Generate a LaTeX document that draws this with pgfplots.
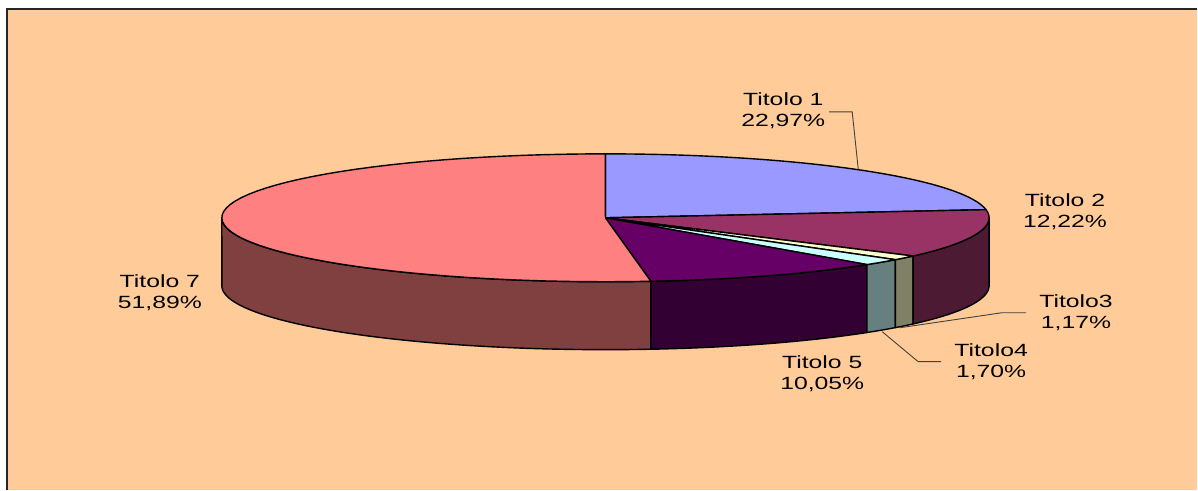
\documentclass[border=0pt]{standalone}
\usepackage{fontspec}
\setmainfont{Liberation Sans}
\usepackage{pgfplots}
\pgfplotsset{compat=1.18}
\definecolor{bgpeach}{HTML}{FFCC99}
\definecolor{cA}{HTML}{9999FF}
\definecolor{cB}{HTML}{993366}
\definecolor{cBs}{HTML}{4D1A33}
\definecolor{cC}{HTML}{FFFFCC}
\definecolor{cCs}{HTML}{808066}
\definecolor{cD}{HTML}{CCFFFF}
\definecolor{cDs}{HTML}{668080}
\definecolor{cE}{HTML}{660066}
\definecolor{cEs}{HTML}{330033}
\definecolor{cG}{HTML}{FF8080}
\definecolor{cGs}{HTML}{804040}
% pie geometry (pixel units, y downwards)
\def\cx{606}\def\cy{218}\def\rx{384}\def\ry{64}\def\dep{68}
% top face of a slice: start angle, end angle, colour
\newcommand{\topwedge}[3]{%
  \addplot[fill=#3, draw=black, line width=1.4bp, line join=round,
    samples at={-1,0,...,60,61}]
   ({\cx+\rx*(x>=0)*(x<=60)*cos((#1)+((#2)-(#1))*max(0,min(x,60))/60)},
    {\cy-\ry*(x>=0)*(x<=60)*sin((#1)+((#2)-(#1))*max(0,min(x,60))/60)});}
% side face of a slice (front half only)
\newcommand{\sideface}[3]{%
  \addplot[fill=#3, draw=black, line width=1.4bp, line join=round,
    samples at={0,1,...,122}]
   ({\cx+\rx*cos((#1)+((#2)-(#1))*((x<=60)*x/60+(x>60)*(x<=121)*(121-x)/60))},
    {\cy-\ry*sin((#1)+((#2)-(#1))*((x<=60)*x/60+(x>60)*(x<=121)*(121-x)/60))+\dep*(x>60)*(x<122)});}
\tikzset{lab/.style={font=\fontsize{17.7bp}{21bp}\selectfont, align=center,
  xscale=1.4, inner sep=0pt, text=black}}
\begin{document}
\begin{tikzpicture}
% slice shares (percent), clockwise from 12 o'clock
\def\pA{22.97}\def\pB{12.22}\def\pC{1.17}\def\pD{1.70}\def\pE{10.05}\def\pG{51.89}
\pgfmathsetmacro\aA{90}
\pgfmathsetmacro\aB{\aA-3.6*\pA}
\pgfmathsetmacro\aC{\aB-3.6*\pB}
\pgfmathsetmacro\aD{\aC-3.6*\pC}
\pgfmathsetmacro\aE{\aD-3.6*\pD}
\pgfmathsetmacro\aG{\aE-3.6*\pE}
\pgfmathsetmacro\aZ{\aG-3.6*\pG}
\begin{axis}[scale only axis, width=1198bp, height=490bp,
  xmin=0, xmax=1198, ymin=0, ymax=490, y dir=reverse,
  hide axis, clip=false]
\fill[white] (axis cs:0,0) rectangle (axis cs:1198,490);
\fill[bgpeach] (axis cs:7,9) rectangle (axis cs:1198,490);
\draw[black!85, line width=2.2bp] (axis cs:7,490) -- (axis cs:7,9) -- (axis cs:1198,9);
% side faces
\sideface{-180}{\aG}{cGs}
\sideface{\aG}{\aE}{cEs}
\sideface{\aE}{\aD}{cDs}
\sideface{\aD}{\aC}{cCs}
\sideface{\aC}{0}{cBs}
% top faces
\topwedge{\aA}{\aB}{cA}
\topwedge{\aB}{\aC}{cB}
\topwedge{\aC}{\aD}{cC}
\topwedge{\aD}{\aE}{cD}
\topwedge{\aE}{\aG}{cE}
\topwedge{\aG}{\aZ}{cG}
% leader lines
\addplot[black!75, line width=0.9bp] coordinates {(830,112) (853,112) (859,169)};
\addplot[black!75, line width=0.9bp] coordinates {(901,328) (1003,313) (1027,313)};
\addplot[black!75, line width=0.9bp] coordinates {(883,332) (919,362) (942,362)};
% labels
\node[lab] at (axis cs:784,111) {Titolo 1\\22,97\%};
\node[lab] at (axis cs:1066,212) {Titolo 2\\12,22\%};
\node[lab] at (axis cs:1077,313) {Titolo3\\1,17\%};
\node[lab] at (axis cs:992,362) {Titolo4\\1,70\%};
\node[lab] at (axis cs:823,374) {Titolo 5\\10,05\%};
\node[lab] at (axis cs:160,293) {Titolo 7\\51,89\%};
\end{axis}
\end{tikzpicture}
\end{document}
